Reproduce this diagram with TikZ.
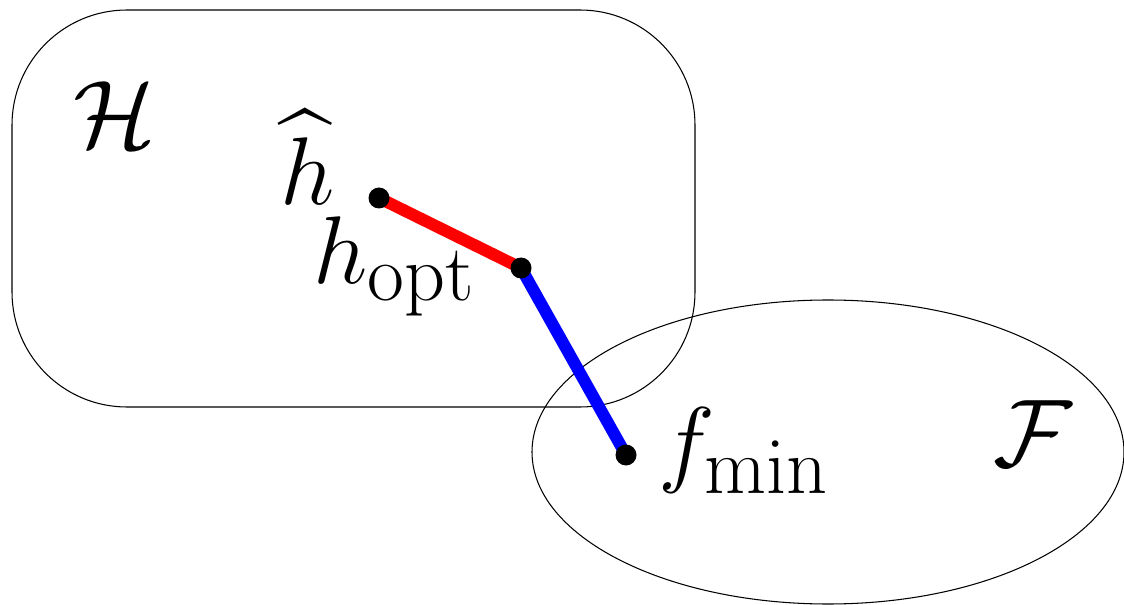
\documentclass[tikz,border=0pt]{standalone}
\usepackage{amsmath}
\usetikzlibrary{positioning}

\begin{document}
\begin{tikzpicture}[
    lab/.style={font=\Huge, scale=2.2, inner sep=0pt},
    setline/.style={draw, line width=0.6pt},
    dot/.style={circle, fill=black, inner sep=0pt, minimum size=0.42cm},
    redseg/.style={red, line width=0.24cm},
    blueseg/.style={blue, line width=0.24cm}
]
    \useasboundingbox (0,0) rectangle (22.48,-12.1);

    % --- Conjuntos H y F ---
    \draw[setline, rounded corners=2.3cm] (0.24,-0.2) rectangle (13.9,-8.14);
    \draw[setline] (16.56,-9.04) ellipse [x radius=5.92cm, y radius=3.04cm];

    \node[lab] (Hlab) at (2.3,-2.3) {$\mathcal{H}$};
    \node[lab] (Flab) at (20.66,-8.68) {$\mathcal{F}$};

    % --- Puntos ---
    \coordinate (hhat) at (7.58,-3.96);
    \coordinate (hopt) at (10.42,-5.36);
    \coordinate (fmin) at (12.52,-9.10);

    % --- Segmentos ---
    \draw[redseg]  (hhat) -- (hopt);
    \draw[blueseg] (hopt) -- (fmin);

    \node[dot] (hhatdot) at (hhat) {};
    \node[dot] (hoptdot) at (hopt) {};
    \node[dot] (fmindot) at (fmin) {};

    % --- Etiquetas ---
    \node[lab, anchor=base west] (hhatlab) at (5.6,-4.1)   {$\widehat{h}$};
    \node[lab, anchor=base west] (hoptlab) at (6.26,-5.68) {$h_{\mathrm{opt}}$};
    \node[lab, anchor=base west] (fminlab) at (13.15,-9.48) {$f_{\min}$};

\end{tikzpicture}
\end{document}
